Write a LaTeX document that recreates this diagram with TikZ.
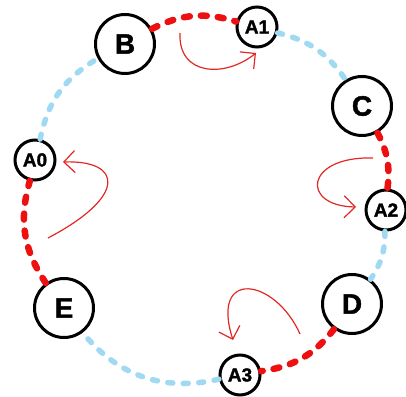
\documentclass[tikz,border=0pt]{standalone}
\usepackage{fontspec}
\setmainfont{Liberation Sans}[BoldFeatures={FakeBold=1.6}]
\usetikzlibrary{arrows.meta}
\definecolor{ringblue}{RGB}{160,218,242}
\definecolor{ringred}{RGB}{238,16,16}
\definecolor{hopred}{RGB}{226,40,36}
\begin{document}
\begin{tikzpicture}[x=1pt,y=1pt,
        peer/.style={shape=circle,draw=black,line width=3pt,fill=white,minimum size=59pt,inner sep=0pt,font=\fontsize{28}{28}\selectfont\bfseries},
        keynode/.style={shape=circle,draw=black,line width=3pt,fill=white,minimum size=40pt,inner sep=0pt,font=\fontsize{19}{19}\selectfont\bfseries},
        owned/.style={draw=ringred,line width=6.5pt,line cap=round,dash pattern=on 6pt off 11pt},
        free/.style={draw=ringblue,line width=5.5pt,line cap=round,dash pattern=on 5pt off 10.5pt},
        hop/.style={draw=hopred,line width=1.2pt,-{Straight Barb[length=11pt,width=22pt]}}]
                \useasboundingbox (0,0) rectangle (406,396);

                \node[peer] (B) at (125,352) {B};
                \node[keynode] (A1) at (257,369) {A1};
                \node[peer] (C) at (362,290) {C};
                \node[keynode] (A2) at (386,186) {A2};
                \node[peer] (D) at (352,92) {D};
                \node[keynode] (A3) at (240,21) {A3};
                \node[peer] (E) at (64,88) {E};
                \node[keynode] (A0) at (35,236) {A0};

                % ring
                \draw[owned] (B) to[bend left=22] (A1);
                \draw[free] (A1) to[bend left=21] (C);
                \draw[owned] (C) to[bend left=17] (A2);
                \draw[free] (A2) to[bend left=17] (D);
                \draw[owned] (D) to[bend left=22] (A3);
                \draw[free] (A3) to[bend left=32] (E);
                \draw[owned] (E) to[bend left=25] (A0);
                \draw[free] (A0) to[bend left=24] (B);

                % hand-over arrows
                \coordinate (b1) at (180,363);
                \coordinate (b2) at (256,343);
                \coordinate (c1) at (373,238);
                \coordinate (c2) at (356,189);
                \coordinate (d1) at (300,62);
                \coordinate (d2) at (233,56);
                \coordinate (e1) at (48,158);
                \coordinate (e2) at (63,234);

                \draw[hop] (b1) .. controls (178,320) and (225,318) .. (b2);
                \draw[hop] (c1) .. controls (305,240) and (300,190) .. (c2);
                \draw[hop] (d1) .. controls (275,118) and (210,128) .. (d2);
                \draw[hop] (e1) .. controls (128,200) and (122,236) .. (e2);
            \end{tikzpicture}
\end{document}
